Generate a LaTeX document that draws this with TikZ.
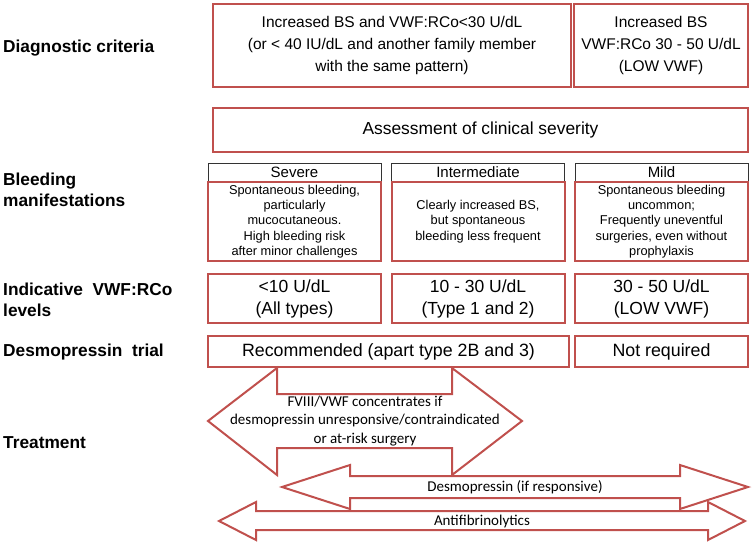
\documentclass[tikz,border=0pt]{standalone}
\usepackage{fontspec}
\setmainfont{Liberation Sans}
\newfontfamily\calibrifont{Carlito}
\definecolor{boxred}{HTML}{C0504D}
\tikzset{
	redbox/.style={draw=boxred, line width=2pt, align=center, inner sep=0pt},
	hdrbox/.style={draw=black!80, line width=0.8pt, inner sep=0pt, minimum width=173, minimum height=19, font=\fontsize{15}{17}\selectfont},
	sidelabel/.style={anchor=west, align=left, inner sep=0pt, font=\bfseries\fontsize{17.3}{21}\selectfont},
	arrowshape/.style={draw=boxred, line width=2pt, line join=miter},
	arrowtext/.style={align=center, inner sep=0pt, font=\calibrifont\fontsize{15}{18.5}\selectfont}
}
\begin{document}
\begin{tikzpicture}[x=1pt, y=-1pt]
	\useasboundingbox (0,0) rectangle (753,543);

	\node[sidelabel] (lbldiag) at (3,48) {Diagnostic criteria};
	\node[sidelabel] (lblbleed) at (3,190) {Bleeding\\manifestations};
	\node[sidelabel] (lbllevel) at (3,300) {Indicative\ \ VWF:RCo\\levels};
	\node[sidelabel] (lbldesmo) at (3,352) {Desmopressin\ \ trial};
	\node[sidelabel] (lbltreat) at (3,443) {Treatment};

	\node[redbox, minimum width=358, minimum height=83, font=\fontsize{15.5}{22}\selectfont] (diaga) at (392,45.5) {Increased BS and VWF:RCo<30 U/dL\\(or < 40 IU/dL and another family member\\with the same pattern)};
	\node[redbox, minimum width=174, minimum height=83, font=\fontsize{15.5}{22}\selectfont] (diagb) at (661,45.5) {Increased BS\\VWF:RCo 30 - 50 U/dL\\(LOW VWF)};

	\node[redbox, minimum width=535, minimum height=44, font=\fontsize{17.4}{20}\selectfont] (assess) at (480.5,130) {Assessment of clinical severity};

	\node[hdrbox] (hsevere) at (294.5,172.5) {Severe};
	\node[hdrbox] (hinter) at (478,172.5) {Intermediate};
	\node[hdrbox] (hmild) at (661.5,172.5) {Mild};

	\node[redbox, minimum width=173, minimum height=79, font=\fontsize{12.8}{15.4}\selectfont] (bsevere) at (294.5,221.5) {Spontaneous bleeding,\\particularly\\mucocutaneous.\\High bleeding risk\\after minor challenges};
	\node[redbox, minimum width=173, minimum height=79, font=\fontsize{12.8}{15.4}\selectfont] (binter) at (478,221.5) {Clearly increased BS,\\but spontaneous\\bleeding less frequent};
	\node[redbox, minimum width=173, minimum height=79, font=\fontsize{12.8}{15.4}\selectfont] (bmild) at (661.5,221.5) {Spontaneous bleeding\\uncommon;\\Frequently uneventful\\surgeries, even without\\prophylaxis};

	\node[redbox, minimum width=173, minimum height=49, font=\fontsize{17.5}{22}\selectfont] (lsevere) at (294.5,298.5) {<10 U/dL\\(All types)};
	\node[redbox, minimum width=173, minimum height=49, font=\fontsize{17.5}{22}\selectfont] (linter) at (478,298.5) {10 - 30 U/dL\\(Type 1 and 2)};
	\node[redbox, minimum width=173, minimum height=49, font=\fontsize{17.5}{22}\selectfont] (lmild) at (661.5,298.5) {30 - 50 U/dL\\(LOW VWF)};

	\node[redbox, minimum width=361, minimum height=31, font=\fontsize{17.8}{21}\selectfont] (trialyes) at (388.5,351.5) {Recommended (apart type 2B and 3)};
	\node[redbox, minimum width=173, minimum height=31, font=\fontsize{17.8}{21}\selectfont] (trialno) at (661.5,351.5) {Not required};

	\draw[arrowshape] (208,421) -- (277,368) -- (277,394) -- (452,394) -- (452,368) -- (522,421) -- (452,475) -- (452,448) -- (277,448) -- (277,475) -- cycle;
	\node[arrowtext] (fviii) at (365,421) {FVIII/VWF concentrates if\\desmopressin unresponsive/contraindicated\\or at-risk surgery};

	\draw[arrowshape] (282,487) -- (350,465) -- (350,476) -- (680,476) -- (680,465) -- (748,487) -- (680,509) -- (680,498) -- (350,498) -- (350,509) -- cycle;
	\node[arrowtext] (ddavp) at (515,487) {Desmopressin (if responsive)};

	\draw[arrowshape] (219,521) -- (256,502) -- (256,511) -- (708,511) -- (708,502) -- (745,521) -- (708,540) -- (708,530) -- (256,530) -- (256,540) -- cycle;
	\node[arrowtext] (antifib) at (482,521) {Antifibrinolytics};
\end{tikzpicture}
\end{document}
